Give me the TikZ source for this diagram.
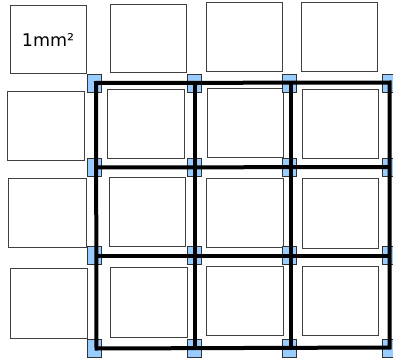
\documentclass[tikz,border=0pt]{standalone}
\usepackage{fontspec}
\setmainfont{DejaVu Sans}
\definecolor{pinblue}{HTML}{99CCFF}
\begin{document}
\begin{tikzpicture}[x=1pt,y=-1pt,
  cell/.style={draw=black!75, line width=0.9pt, fill=white},
  pin/.style={draw=black!80, line width=0.7pt, fill=pinblue, inner sep=0pt, minimum width=14pt, minimum height=18pt},
  wire/.style={line width=4pt, black}]
\useasboundingbox (0,0) rectangle (393,361);
% cells
\draw[cell] (10,5) rectangle (86,73);
\node[font=\fontsize{17.5}{20}\selectfont] (lbl) at (48,40) {1mm²};
\draw[cell] (110,4) rectangle (186,72);
\draw[cell] (206,2) rectangle (282,71);
\draw[cell] (301,2) rectangle (377,71);
\draw[cell] (7,91) rectangle (84,160);
\draw[cell] (107,89) rectangle (184,158);
\draw[cell] (207,88) rectangle (283,157);
\draw[cell] (302,89) rectangle (378,158);
\draw[cell] (8,178) rectangle (86,247);
\draw[cell] (109,177) rectangle (185,246);
\draw[cell] (206,178) rectangle (283,247);
\draw[cell] (302,178) rectangle (378,248);
\draw[cell] (10,268) rectangle (87,338);
\draw[cell] (110,267) rectangle (187,337);
\draw[cell] (206,266) rectangle (283,335);
\draw[cell] (302,266) rectangle (378,335);
% pins
\foreach \cx/\ci in {94/1,194/2,289/3,389/4}{
  \foreach \ry/\rj in {83/1,167.5/2,255.5/3,348.5/4}{
    \node[pin] (p\ci\rj) at (\cx,\ry) {};
  }
}
% wires
\coordinate (a1) at (96,83);
\coordinate (a4) at (389.5,82.5);
\coordinate (d1) at (96.5,348.5);
\coordinate (d4) at (389.5,347.5);
\draw[wire] (a1) -- (a4) -- (d4) -- (d1) -- cycle;
\draw[wire] (195,83) -- (195,348);
\draw[wire] (290.5,82.5) -- (290.5,348);
\draw[wire] (96,167.5) -- (389.5,167);
\draw[wire] (96.5,256) -- (389.5,256);
\end{tikzpicture}
\end{document}
